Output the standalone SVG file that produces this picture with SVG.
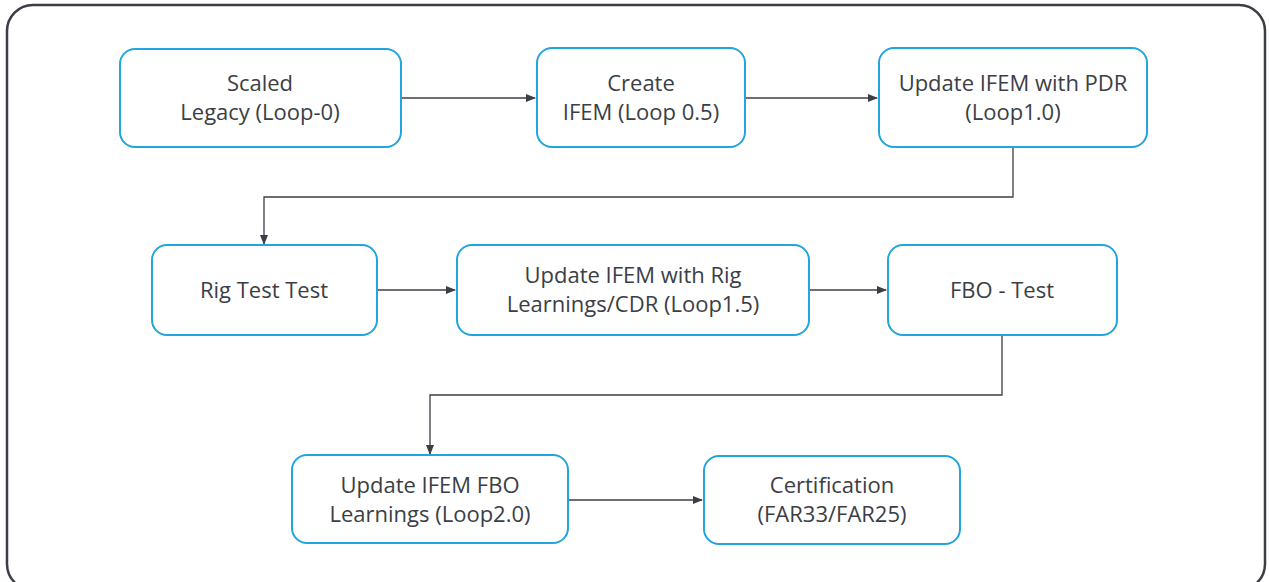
<svg xmlns="http://www.w3.org/2000/svg" width="1269" height="582" viewBox="0 0 1269 582">
<defs>
<style>
.n{fill:#fff;stroke:#22a5de;stroke-width:2}
.t{font-family:"Open Sans","Liberation Sans",sans-serif;font-size:22px;fill:#3b3e45;text-anchor:middle}
.c{fill:none;stroke:#3b3e45;stroke-width:1.3}
</style>
<marker id="a" markerWidth="10" markerHeight="8" refX="9" refY="4" orient="auto" markerUnits="userSpaceOnUse">
<path d="M0,0 L10,4 L0,8 Z" fill="#3b3e45"/>
</marker>
</defs>
<rect x="7" y="5" width="1258" height="585" rx="26" fill="#fff" stroke="#3b3e45" stroke-width="2.5"/>
<g id="connectors">
<path class="c" d="M401,98 H535" marker-end="url(#a)"/>
<path class="c" d="M745,98 H877" marker-end="url(#a)"/>
<path class="c" d="M1013,147 V197 H264 V244" marker-end="url(#a)"/>
<path class="c" d="M377,290 H455" marker-end="url(#a)"/>
<path class="c" d="M809,290 H886" marker-end="url(#a)"/>
<path class="c" d="M1002,335 V395 H430 V454" marker-end="url(#a)"/>
<path class="c" d="M568,500 H702" marker-end="url(#a)"/>
</g>
<g id="n1"><rect class="n" x="120" y="49" width="281" height="98" rx="15"/>
<text class="t" x="260" y="91">Scaled</text><text class="t" x="260" y="120">Legacy (Loop-0)</text></g>
<g id="n2"><rect class="n" x="537" y="48" width="208" height="99" rx="15"/>
<text class="t" x="641" y="91">Create</text><text class="t" x="641" y="120">IFEM (Loop 0.5)</text></g>
<g id="n3"><rect class="n" x="879" y="48" width="268" height="99" rx="15"/>
<text class="t" x="1013" y="91">Update IFEM with PDR</text><text class="t" x="1013" y="120">(Loop1.0)</text></g>
<g id="n4"><rect class="n" x="152" y="245" width="225" height="90" rx="15"/>
<text class="t" x="264" y="298">Rig Test Test</text></g>
<g id="n5"><rect class="n" x="457" y="245" width="352" height="90" rx="15"/>
<text class="t" x="633" y="283">Update IFEM with Rig</text><text class="t" x="633" y="312">Learnings/CDR (Loop1.5)</text></g>
<g id="n6"><rect class="n" x="888" y="245" width="229" height="90" rx="15"/>
<text class="t" x="1002" y="298">FBO - Test</text></g>
<g id="n7"><rect class="n" x="292" y="455" width="276" height="88" rx="15"/>
<text class="t" x="430" y="493">Update IFEM FBO</text><text class="t" x="430" y="522">Learnings (Loop2.0)</text></g>
<g id="n8"><rect class="n" x="704" y="456" width="256" height="88" rx="15"/>
<text class="t" x="832" y="493">Certification</text><text class="t" x="832" y="522">(FAR33/FAR25)</text></g>
</svg>
